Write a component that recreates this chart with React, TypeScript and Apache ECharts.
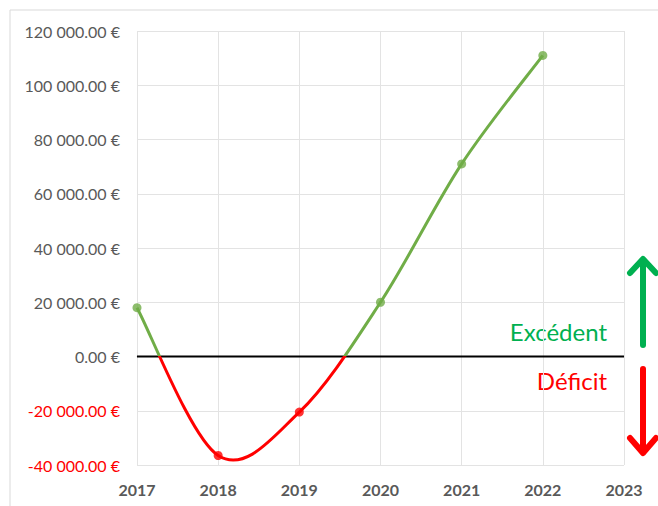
import React, { useEffect, useRef } from "react";
import * as echarts from "echarts";

const years = ["2017", "2018", "2019", "2020", "2021", "2022", "2023"];
const balance = [18000, -36500, -20500, 20000, 71000, 111000];
const zeroLine = [0, 0, 0, 0, 0, 0, 0];
const yMin = -40000;
const yMax = 120000;
const yStep = 20000;

const GREEN_LINE = "#70AD47";
const RED = "#FF0000";
const GREEN_TEXT = "#00B050";
const GRAY = "#595959";

function fmt(v: number): string {
  const neg = v < 0;
  const a = Math.abs(v);
  const int = Math.floor(a).toString().replace(/\B(?=(\d{3})+(?!\d))/g, " ");
  return (neg ? "-" : "") + int + ".00 €";
}

// Excel-like smoothed curve (Catmull-Rom style Bezier), drawn in pixel space
function renderCurve(params: any, api: any) {
  if (params.dataIndex !== 0) return null;
  const pts: number[][] = balance.map((v, i) => api.coord([i, v]));
  const n = pts.length;
  const k = 1 / 6;
  let d = `M${pts[0][0]},${pts[0][1]}`;
  for (let i = 0; i < n - 1; i++) {
    const p0 = pts[Math.max(i - 1, 0)];
    const p1 = pts[i];
    const p2 = pts[i + 1];
    const p3 = pts[Math.min(i + 2, n - 1)];
    const c1x = p1[0] + (p2[0] - p0[0]) * k;
    const c1y = p1[1] + (p2[1] - p0[1]) * k;
    const c2x = p2[0] - (p3[0] - p1[0]) * k;
    const c2y = p2[1] - (p3[1] - p1[1]) * k;
    d += ` C${c1x},${c1y} ${c2x},${c2y} ${p2[0]},${p2[1]}`;
  }
  const zeroY = api.coord([0, 0])[1];
  const stroke = new echarts.graphic.LinearGradient(
    0,
    zeroY - 0.5,
    0,
    zeroY + 0.5,
    [
      { offset: 0, color: GREEN_LINE },
      { offset: 0.5, color: GREEN_LINE },
      { offset: 0.5, color: RED },
      { offset: 1, color: RED },
    ],
    true
  );
  return {
    type: "path",
    shape: { pathData: d },
    style: { fill: "none", stroke, lineWidth: 3 },
    silent: true,
  };
}

export default function App() {
  const ref = useRef<HTMLDivElement>(null);
  useEffect(() => {
    if (!ref.current) return;
    const chart = echarts.init(ref.current, null, { renderer: "svg" });
    chart.setOption({
      animation: false,
      backgroundColor: "#ffffff",
      grid: { left: 137, right: 34, top: 31, bottom: 41 },
      xAxis: {
        type: "category",
        data: years,
        boundaryGap: false,
        axisLine: { show: true, lineStyle: { color: "#D9D9D9", width: 1 } },
        axisTick: { show: false },
        splitLine: { show: true, lineStyle: { color: "#E3E3E3", width: 1 } },
        axisLabel: {
          color: GRAY,
          fontFamily: "Lato",
          fontWeight: "bold",
          fontSize: 16,
          margin: 16,
        },
      },
      yAxis: {
        type: "value",
        min: yMin,
        max: yMax,
        interval: yStep,
        axisLine: { show: false },
        axisTick: { show: false },
        splitLine: { show: true, lineStyle: { color: "#E3E3E3", width: 1 } },
        axisLabel: {
          fontFamily: "Lato",
          fontSize: 16,
          margin: 17,
          formatter: (v: number) => fmt(v),
          color: (v: any) => (Number(v) < 0 ? RED : GRAY),
        },
      },
      series: [
        {
          type: "line",
          data: zeroLine,
          symbol: "none",
          silent: true,
          lineStyle: { color: "#000000", width: 2 },
          z: 2,
        },
        {
          type: "custom",
          data: balance.map((v, i) => [i, v]),
          renderItem: renderCurve,
          clip: false,
          silent: true,
          z: 3,
        },
        {
          type: "scatter",
          data: balance.map((v, i) => [i, v]),
          symbol: "circle",
          symbolSize: 9,
          itemStyle: {
            color: (p: any) => (p.value[1] < 0 ? RED : GREEN_LINE),
          },
          z: 4,
        },
      ],
      graphic: [
        {
          type: "rect",
          shape: { x: 10, y: 10, width: 660, height: 510 },
          style: { fill: "none", stroke: "#D9D9D9", lineWidth: 1 },
          silent: true,
        },
        {
          type: "text",
          x: 607,
          y: 331,
          style: {
            text: "Excédent",
            fill: GREEN_TEXT,
            font: "24px Lato",
            align: "right",
            verticalAlign: "middle",
          },
        },
        {
          type: "text",
          x: 607,
          y: 380,
          style: {
            text: "Déficit",
            fill: RED,
            font: "24px Lato",
            align: "right",
            verticalAlign: "middle",
          },
        },
        {
          type: "line",
          shape: { x1: 643, y1: 261, x2: 643, y2: 345 },
          style: { stroke: GREEN_TEXT, lineWidth: 6, lineCap: "round" },
        },
        {
          type: "polyline",
          shape: { points: [[630, 273], [643, 259], [656, 273]] },
          style: { stroke: GREEN_TEXT, lineWidth: 6, fill: "none", lineCap: "round", lineJoin: "round" },
        },
        {
          type: "line",
          shape: { x1: 643, y1: 369, x2: 643, y2: 452 },
          style: { stroke: RED, lineWidth: 6, lineCap: "round" },
        },
        {
          type: "polyline",
          shape: { points: [[630, 438], [643, 453], [656, 438]] },
          style: { stroke: RED, lineWidth: 6, fill: "none", lineCap: "round", lineJoin: "round" },
        },
      ],
    });
    return () => chart.dispose();
  }, []);
  return (
    <div
      ref={ref}
      style={{ position: "absolute", left: 0, top: 0, width: 658, height: 506 }}
    />
  );
}
